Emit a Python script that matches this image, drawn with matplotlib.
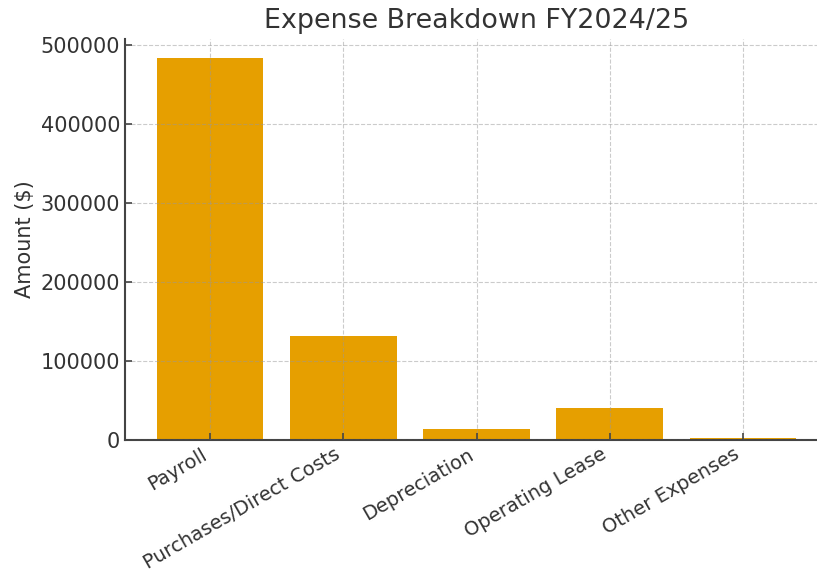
import matplotlib
matplotlib.use("Agg")
import matplotlib.pyplot as plt

categories = ["Payroll", "Purchases/Direct Costs", "Depreciation", "Operating Lease", "Other Expenses"]
amounts = [483500, 132000, 14000, 40500, 2500]
title = "Expense Breakdown FY2024/25"
ylabel = "Amount ($)"

plt.rcParams['font.family'] = ['DejaVu Sans']
text_color = "#333333"

fig = plt.figure(figsize=(8.17, 5.77), dpi=100)
ax = fig.add_axes([125/817, 1-440/577, (828-125)/817, (440-39)/577])

ax.bar(categories, amounts, width=0.8, color="#E69F00")
ax.set_title(title, fontsize=19.4, color=text_color, pad=8)
ax.set_ylabel(ylabel, fontsize=15, color=text_color)
ax.set_axisbelow(False)
ax.grid(True, linestyle="--", color="#999999", alpha=0.5, linewidth=0.8)
for s in ["top", "right"]:
    ax.spines[s].set_visible(False)
for s in ["left", "bottom"]:
    ax.spines[s].set_color("#444444")
    ax.spines[s].set_linewidth(1.5)
ax.tick_params(axis="both", direction="in", colors="#444444", labelcolor=text_color, length=5, width=1.2)
ax.tick_params(axis="y", labelsize=15)
ax.tick_params(axis="x", labelsize=14)
plt.setp(ax.get_xticklabels(), rotation=30, ha="right")
ax.set_yticks([0, 100000, 200000, 300000, 400000, 500000])

fig.savefig("out.png", dpi=100)
